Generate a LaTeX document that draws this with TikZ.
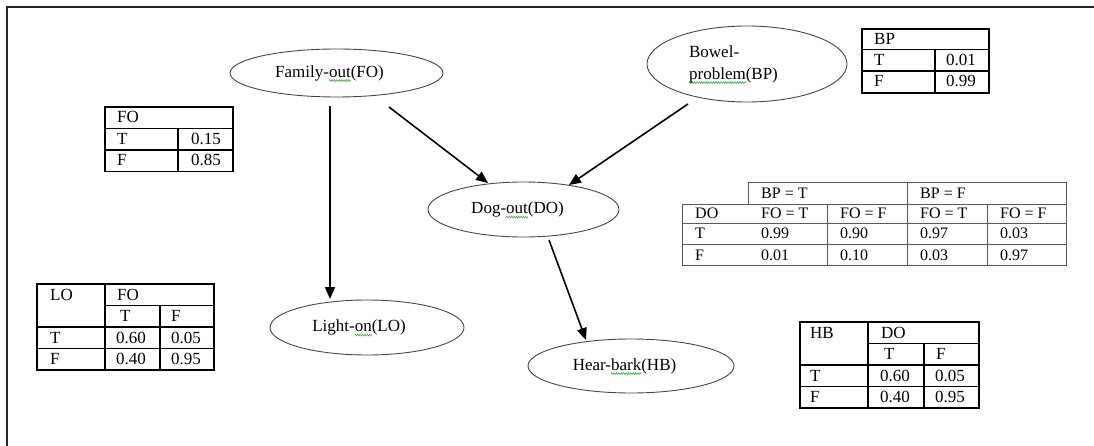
\documentclass[tikz,border=0pt]{standalone}
\usepackage{fontspec}
\setmainfont{Liberation Serif}
\usetikzlibrary{arrows.meta,shapes.geometric,calc,decorations.pathmorphing}
\definecolor{spellgreen}{RGB}{70,170,70}
\definecolor{ellline}{RGB}{70,70,70}
\definecolor{thinline}{RGB}{90,90,90}
\newlength\swlen
\newcommand\spellwave[1]{\settowidth\swlen{#1}\tikz[overlay,baseline=0pt,x=1pt,y=1pt]\draw[spellgreen,line width=0.6pt,decorate,decoration={zigzag,amplitude=0.9pt,segment length=2.4pt}] (0,-3.5) -- (\swlen,-3.5);#1}
\begin{document}
\begin{tikzpicture}[x=1pt,y=-1pt,
  every node/.style={font=\fontsize{17}{22}\selectfont},
  ell/.style={ellipse,draw=ellline,line width=0.9pt,inner sep=0pt},
  arr/.style={-{Triangle[length=12pt,width=10pt]},line width=1.6pt,black},
  thick tab/.style={line width=1.8pt,black},
  thin tab/.style={line width=0.9pt,thinline},
  cell/.style={anchor=base west,inner sep=0pt},
  small cell/.style={anchor=base west,inner sep=0pt,font=\fontsize{16}{20}\selectfont}]
\useasboundingbox (0,0) rectangle (1094,446);
% frame
\draw[line width=2pt,black!85] (1094,7) -- (7,7) -- (7,446);

% ellipses
\node[ell,minimum width=213pt,minimum height=48pt] (fo) at (336.5,73) {Family-\spellwave{out}(FO)\kern14pt};
\node[ell,minimum width=200pt,minimum height=76pt,align=left] (bp) at (747,64) {Bowel-\\\spellwave{problem}(BP)\kern27pt};
\node[ell,minimum width=191pt,minimum height=55pt] (do) at (523.5,209.5) {Dog-\spellwave{out}(DO)\kern12pt};
\node[ell,minimum width=194pt,minimum height=55pt] (lo) at (367,327.5) {Light-\spellwave{on}(LO)\kern16pt};
\node[ell,minimum width=206pt,minimum height=54pt] (hb) at (631,366) {Hear-\spellwave{bark}(HB)\kern13pt};

% arrows
\draw[arr] ($(fo)+(-6.5,33)$) -- ($(lo)+(-37,-28.5)$);
\draw[arr] ($(fo)+(52.5,34)$) -- ($(do)+(-35.5,-26.5)$);
\draw[arr] ($(bp)+(-59,40)$) -- ($(do)+(45.5,-24.5)$);
\draw[arr] ($(do)+(25.5,30.5)$) -- ($(hb)+(-45,-26)$);

% FO table
\draw[thick tab] (105,107) rectangle (233,171.5);
\draw[thick tab] (105,128.5) -- (233,128.5) (105,150) -- (233,150) (178,128.5) -- (178,171.5);
\node[cell] (fot0) at (117,123) {FO};
\node[cell] (fot1) at (117,144.5) {T};
\node[cell] (fot2) at (117,166) {F};
\node[cell] (fot3) at (191,144.5) {0.15};
\node[cell] (fot4) at (191,166) {0.85};

% BP table
\draw[thick tab] (862,29) rectangle (989,93);
\draw[thick tab] (862,49.5) -- (989,49.5) (862,71) -- (989,71) (935,49.5) -- (935,93);
\node[cell] (bpt0) at (874,44.5) {BP};
\node[cell] (bpt1) at (874,65.5) {T};
\node[cell] (bpt2) at (874,87) {F};
\node[cell] (bpt3) at (946,65.5) {0.01};
\node[cell] (bpt4) at (946,87) {0.99};

% DO table
\draw[thin tab] (748,182.5) -- (1066,182.5) -- (1066,265.5) -- (682,265.5) -- (682,204) -- (748,204) -- cycle;
\draw[thin tab] (682,204) -- (1066,204) (682,223.5) -- (1066,223.5) (682,244) -- (1066,244);
\draw[thin tab] (907,182.5) -- (907,265.5) (827,204) -- (827,265.5) (987,204) -- (987,265.5);
\node[small cell] (dot0) at (761,198.5) {BP = T};
\node[small cell] (dot1) at (920,198.5) {BP = F};
\node[small cell] (dot2) at (695,219) {DO};
\node[small cell] (dot3) at (761,219) {FO = T};
\node[small cell] (dot4) at (840,219) {FO = F};
\node[small cell] (dot5) at (920,219) {FO = T};
\node[small cell] (dot6) at (1000,219) {FO = F};
\node[small cell] (dot7) at (695,239) {T};
\node[small cell] (dot8) at (761,239) {0.99};
\node[small cell] (dot9) at (840,239) {0.90};
\node[small cell] (dot10) at (920,239) {0.97};
\node[small cell] (dot11) at (1000,239) {0.03};
\node[small cell] (dot12) at (695,260) {F};
\node[small cell] (dot13) at (761,260) {0.01};
\node[small cell] (dot14) at (840,260) {0.10};
\node[small cell] (dot15) at (920,260) {0.03};
\node[small cell] (dot16) at (1000,260) {0.97};

% LO table
\draw[thick tab] (37,284) rectangle (214,370);
\draw[thick tab] (105,305.5) -- (214,305.5) (37,327) -- (214,327) (37,348.5) -- (214,348.5);
\draw[thick tab] (105,284) -- (105,370) (160,305.5) -- (160,370);
\node[cell] (lot0) at (50,300) {LO};
\node[cell] (lot1) at (117,300) {FO};
\node[cell] (lot2) at (120,321.5) {T};
\node[cell] (lot3) at (171,321.5) {F};
\node[cell] (lot4) at (50,343) {T};
\node[cell] (lot5) at (116,343) {0.60};
\node[cell] (lot6) at (171,343) {0.05};
\node[cell] (lot7) at (50,364.5) {F};
\node[cell] (lot8) at (116,364.5) {0.40};
\node[cell] (lot9) at (171,364.5) {0.95};

% HB table
\draw[thick tab] (800,322) rectangle (979,408);
\draw[thick tab] (868,343.5) -- (979,343.5) (800,365) -- (979,365) (800,386.5) -- (979,386.5);
\draw[thick tab] (868,322) -- (868,408) (924,343.5) -- (924,408);
\node[cell] (hbt0) at (810,338) {HB};
\node[cell] (hbt1) at (881,338) {DO};
\node[cell] (hbt2) at (884,359.5) {T};
\node[cell] (hbt3) at (936,359.5) {F};
\node[cell] (hbt4) at (810,381) {T};
\node[cell] (hbt5) at (880,381) {0.60};
\node[cell] (hbt6) at (935,381) {0.05};
\node[cell] (hbt7) at (810,402.5) {F};
\node[cell] (hbt8) at (880,402.5) {0.40};
\node[cell] (hbt9) at (935,402.5) {0.95};
\end{tikzpicture}
\end{document}
